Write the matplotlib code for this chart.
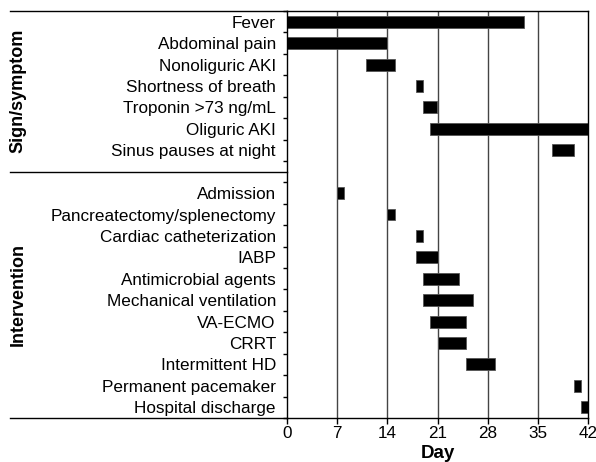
import matplotlib
matplotlib.use('Agg')
import numpy as np
from matplotlib import pyplot as plt

plt.rcParams['font.family'] = ['Liberation Sans', 'DejaVu Sans']

# sign/symptom rows
sign_labels = ['Fever', 'Abdominal pain', 'Nonoliguric AKI', 'Shortness of breath',
               'Troponin >73 ng/mL', 'Oliguric AKI', 'Sinus pauses at night']
sign_start = [0, 0, 11, 18, 19, 20, 37]
sign_end = [33, 14, 15, 19, 21, 42, 40]

# intervention rows
int_labels = ['Admission', 'Pancreatectomy/splenectomy', 'Cardiac catheterization', 'IABP',
              'Antimicrobial agents', 'Mechanical ventilation', 'VA-ECMO', 'CRRT',
              'Intermittent HD', 'Permanent pacemaker', 'Hospital discharge']
int_start = [7, 14, 18, 18, 19, 19, 20, 21, 25, 40, 41]
int_end = [8, 15, 19, 21, 24, 26, 25, 25, 29, 41, 42]

day_ticks = [0, 7, 14, 21, 28, 35, 42]

labels = sign_labels + [''] + int_labels
starts = sign_start + [np.nan] + int_start
ends = sign_end + [np.nan] + int_end
n = len(labels)
ypos = np.arange(n)

fig = plt.figure(figsize=(5.96, 4.62), dpi=100)
ax = fig.add_axes([287 / 596, 1 - 418 / 462, 301 / 596, 407 / 462])

for y, s, e in zip(ypos, starts, ends):
    if np.isnan(s):
        continue
    ax.barh(y, e - s, left=s, height=0.56, color='black', edgecolor='#555555', linewidth=0.6)

for d in day_ticks[1:-1]:
    ax.axvline(d, color='#444444', linewidth=1.0, zorder=0)

ax.set_xlim(0, 42)
ax.set_ylim(n - 0.5, -0.5)
ax.set_xticks(day_ticks)
ax.set_yticks(ypos)
ax.set_yticklabels(labels, fontsize=12.3)
ax.tick_params(axis='y', length=0, pad=8)
ax.set_yticks(np.arange(-0.5, n, 1.0), minor=True)
ax.tick_params(axis='y', which='minor', length=3, width=1, direction='out')
ax.tick_params(axis='x', labelsize=12.3, length=4, width=1, direction='out', pad=2)
ax.set_xlabel('Day', fontsize=13.5, fontweight='bold', labelpad=3)

for sp in ax.spines.values():
    sp.set_linewidth(1.0)

# lines extending to the left for the group labels
tr = ax.get_yaxis_transform()
xl = (10 - 287) / 301
for yy in [-0.5, 7, n - 0.5]:
    ax.plot([xl, 0], [yy, yy], color='black', linewidth=1.0, transform=tr, clip_on=False)

fig.text(18 / 596, 1 - 91 / 462, 'Sign/symptom', rotation=90, fontsize=13,
         fontweight='bold', ha='center', va='center')
fig.text(18 / 596, 1 - 295 / 462, 'Intervention', rotation=90, fontsize=13,
         fontweight='bold', ha='center', va='center')

fig.savefig('out.png', dpi=100)
